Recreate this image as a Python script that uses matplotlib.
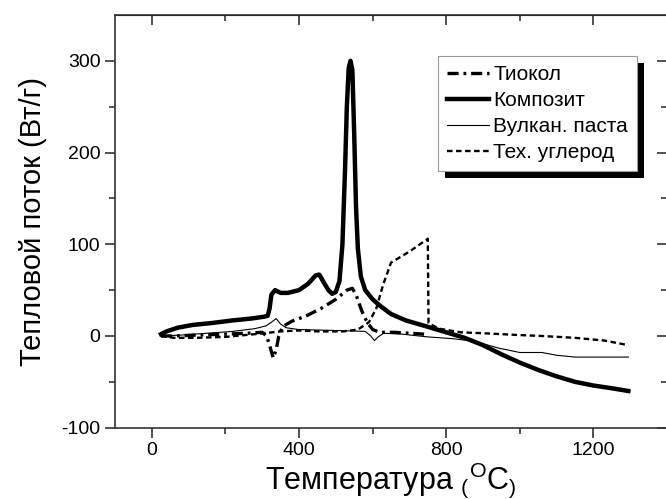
import numpy as np
import matplotlib
matplotlib.use("Agg")
import matplotlib.pyplot as plt
from matplotlib.patches import Rectangle

plt.rcParams['font.family'] = ['Liberation Sans', 'DejaVu Sans']
plt.rcParams['mathtext.fontset'] = 'custom'
plt.rcParams['mathtext.rm'] = 'Liberation Sans'
plt.rcParams['lines.scale_dashes'] = False
plt.rcParams['axes.unicode_minus'] = False

# Тиокол
tiokol_t = [25, 60, 120, 200, 260, 300, 312, 320, 330, 338, 345, 355, 380, 420, 460, 500, 530, 545,
            555, 570, 585, 600, 620, 660, 700, 740]
tiokol_q = [0, 0, 1, 2, 3, 4, 0, -10, -24, -15, 0, 10, 16, 22, 30, 40, 50, 52,
            45, 28, 15, 7, 4, 4, 3, 2]

# Композит
komp_t = [25, 40, 70, 110, 160, 220, 270, 305, 315, 320, 325, 335, 350, 370, 400, 425, 445, 455,
          465, 480, 490, 500, 510, 518, 525, 530, 535, 540, 545, 550, 555, 560, 568, 580, 600,
          620, 650, 690, 750, 800, 850, 900, 950, 1000, 1050, 1100, 1150, 1200, 1250, 1295]
komp_q = [2, 5, 9, 12, 14, 17, 19, 21, 22, 30, 45, 50, 47, 47, 50, 57, 66, 67,
          60, 50, 46, 48, 60, 100, 180, 250, 292, 300, 290, 220, 140, 95, 65, 50, 40,
          33, 24, 17, 10, 4, -2, -10, -20, -29, -37, -44, -50, -54, -57, -60]

# Вулкан. паста
vulk_t = [25, 80, 150, 220, 280, 310, 325, 338, 350, 365, 400, 500, 580, 595, 605, 615, 630, 680,
          750, 820, 880, 940, 1000, 1060, 1100, 1150, 1295]
vulk_q = [0, 1, 3, 5, 8, 11, 15, 19, 13, 9, 7, 6, 5, 0, -5, -1, 3, 2,
          -1, -3, -6, -13, -18, -18, -21, -23, -23]

# Тех. углерод
tech_t = [25, 60, 120, 200, 280, 350, 400, 450, 520, 560, 590, 610, 628, 650, 700, 750, 752,
          780, 840, 900, 950, 1000, 1060, 1150, 1230, 1295]
tech_q = [0, -2, -2, -1, 2, 5, 6, 5, 5, 7, 15, 30, 55, 80, 92, 106, 14,
          8, 4, 3, 2, 1, 0, -2, -5, -10]

labels = ["Тиокол", "Композит", "Вулкан. паста", "Тех. углерод"]

fig = plt.figure(figsize=(6.66, 4.99), dpi=100)
ax = fig.add_axes([115 / 666, 1 - 427.7 / 499, 552 / 666, 412.7 / 499])

ax.plot(tiokol_t, tiokol_q, color='black', lw=2.4, dashes=[8, 3.5, 2, 3.5], label=labels[0])
ax.plot(komp_t, komp_q, color='black', lw=3.2, label=labels[1])
ax.plot(vulk_t, vulk_q, color='black', lw=0.8, label=labels[2])
ax.plot(tech_t, tech_q, color='black', lw=1.7, dashes=[4, 2.5], label=labels[3])

ax.set_xlim(-100, 1400)
ax.set_ylim(-100, 350)
ax.set_xticks([0, 400, 800, 1200])
ax.set_xticks([200, 600, 1000], minor=True)
ax.set_yticks([-100, 0, 100, 200, 300])
ax.set_yticks([-50, 50, 150, 250], minor=True)

for s in ax.spines.values():
    s.set_linewidth(1.2)
    s.set_color('#333333')
ax.tick_params(which='both', direction='out', width=1.2, colors='#333333', labelcolor='black',
               labelsize=14)
ax.tick_params(which='major', length=7)
ax.tick_params(which='minor', length=4)

# верх и право — внутрь
sec_x = ax.secondary_xaxis('top')
sec_x.set_xticks([0, 400, 800, 1200])
sec_x.set_xticks([200, 600, 1000], minor=True)
sec_x.tick_params(which='both', direction='in', width=1.2, colors='#333333', labeltop=False)
sec_x.tick_params(which='major', length=7)
sec_x.tick_params(which='minor', length=4)
sec_y = ax.secondary_yaxis('right')
sec_y.set_yticks([-100, 0, 100, 200, 300])
sec_y.set_yticks([-50, 50, 150, 250], minor=True)
sec_y.tick_params(which='both', direction='in', width=1.2, colors='#333333', labelright=False)
sec_y.tick_params(which='major', length=7)
sec_y.tick_params(which='minor', length=4)

ax.set_ylabel("Тепловой поток (Вт/г)", fontsize=21, labelpad=10)
ax.set_xlabel(r"Температура $_{(}$$^{\mathrm{O}}$C$_{)}$", fontsize=22, labelpad=1)

leg = ax.legend(loc='upper left', bbox_to_anchor=(438 / 666, 1 - 56 / 499),
                bbox_transform=fig.transFigure, borderaxespad=0, fontsize=15,
                fancybox=False, frameon=True, framealpha=1, handlelength=2.0,
                handletextpad=0.2, labelspacing=0.33, borderpad=0.45)
leg.get_frame().set_edgecolor('#999999')
leg.get_frame().set_facecolor('white')
leg.get_frame().set_linewidth(0.8)
leg.set_zorder(10)

fig.canvas.draw()
bb = leg.get_window_extent()
shadow = Rectangle((bb.x0 + 7, bb.y0 - 7), bb.width, bb.height, transform=None,
                   facecolor='black', edgecolor='none', zorder=9)
ax.add_artist(shadow)

fig.savefig("out.png", dpi=100)
